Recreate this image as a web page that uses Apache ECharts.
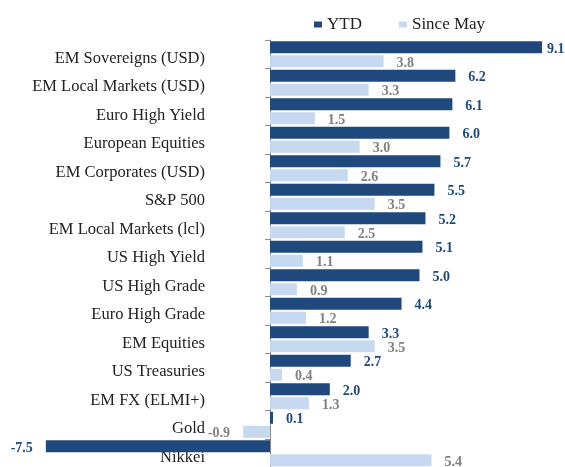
<!DOCTYPE html>
<html>
<head>
<meta charset="utf-8">
<script src="https://cdn.jsdelivr.net/npm/echarts@6/dist/echarts.min.js"></script>
<style>
  html, body { margin: 0; padding: 0; background: #fff; }
  #chart { width: 565px; height: 467px; }
</style>
</head>
<body>
<div id="chart"></div>
<script>
const categories = [
  "EM Sovereigns (USD)",
  "EM Local Markets (USD)",
  "Euro High Yield",
  "European Equities",
  "EM Corporates (USD)",
  "S&P 500",
  "EM Local Markets (lcl)",
  "US High Yield",
  "US High Grade",
  "Euro High Grade",
  "EM Equities",
  "US Treasuries",
  "EM FX (ELMI+)",
  "Gold",
  "Nikkei",
];
const ytd = [9.1, 6.2, 6.1, 6.0, 5.7, 5.5, 5.2, 5.1, 5.0, 4.4, 3.3, 2.7, 2.0, 0.1, -7.5];
const sinceMay = [3.8, 3.3, 1.5, 3.0, 2.6, 3.5, 2.5, 1.1, 0.9, 1.2, 3.5, 0.4, 1.3, -0.9, 5.4];

const FONT = "Liberation Serif";
const DARK = "#1F497D";
const LIGHT = "#C6D9F1";

const chart = echarts.init(document.getElementById("chart"));

// labels of bars that run close to the right edge sit tighter
const withLabels = (values) =>
  values.map((v) => (v > 8.5 ? { value: v, label: { distance: 5 } } : v));

const valueLabel = (color) => ({
  show: true,
  position: "outside",
  distance: 13,
  offset: [0, 2],
  fontFamily: FONT,
  fontSize: 14,
  fontWeight: "bold",
  color,
  formatter: (p) => p.value.toFixed(1),
});

chart.setOption({
  animation: false,
  legend: {
    data: ["YTD", "Since May"],
    left: 309,
    top: 11,
    itemWidth: 8,
    itemHeight: 6,
    itemGap: 37,
    icon: "rect",
    textStyle: { fontFamily: FONT, fontSize: 17, color: "#222" },
  },
  grid: {
    left: 1,
    right: 11,
    top: 40,
    height: 427.5,
    containLabel: false,
    outerBoundsMode: "none",
  },
  xAxis: {
    type: "value",
    min: -9,
    max: 9.5,
    show: false,
  },
  yAxis: {
    type: "category",
    inverse: true,
    data: categories,
    axisLine: { onZero: true, lineStyle: { color: "#8c8c8c", width: 1 } },
    axisTick: { show: true, length: 5, lineStyle: { color: "#8c8c8c" } },
    axisLabel: {
      // labels stay tied to the grid edge, so pull them in to sit left of the zero line
      margin: -204,
      fontFamily: FONT,
      fontSize: 16.5,
      color: "#222",
      verticalAlign: "top",
      lineHeight: 8,
    },
    splitLine: { show: false },
  },
  series: [
    {
      name: "YTD",
      type: "bar",
      data: withLabels(ytd),
      barWidth: 12,
      barGap: "17%",
      itemStyle: { color: DARK },
      label: valueLabel(DARK),
    },
    {
      name: "Since May",
      type: "bar",
      data: withLabels(sinceMay),
      barWidth: 12,
      itemStyle: { color: LIGHT },
      label: valueLabel("#808080"),
    },
  ],
});
</script>
</body>
</html>
